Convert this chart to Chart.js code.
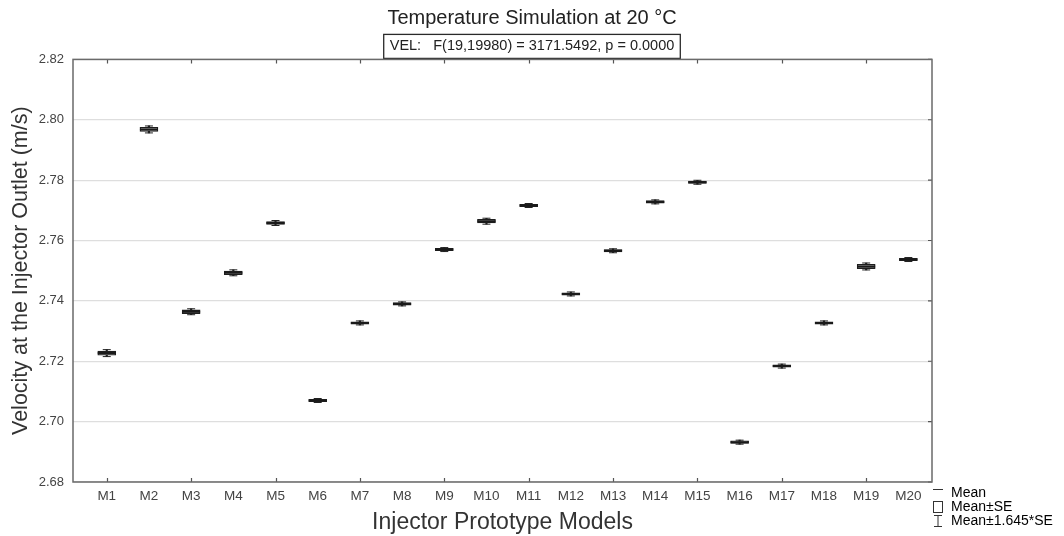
<!DOCTYPE html>
<html>
<head>
<meta charset="utf-8">
<script src="https://cdn.jsdelivr.net/npm/chart.js@4/dist/chart.umd.min.js"></script>
<style>
  html, body { margin: 0; padding: 0; background: #fff; }
</style>
</head>
<body>
<canvas id="velChart" width="1064" height="536"></canvas>
<script>
const models = ['M1', 'M2', 'M3', 'M4', 'M5', 'M6', 'M7', 'M8', 'M9', 'M10',
                'M11', 'M12', 'M13', 'M14', 'M15', 'M16', 'M17', 'M18', 'M19', 'M20'];
const meanVel = [2.7227, 2.7968, 2.7364, 2.7493, 2.7658, 2.7070, 2.7327, 2.7390, 2.7570, 2.7664,
                 2.7716, 2.7423, 2.7566, 2.7728, 2.7793, 2.6932, 2.7184, 2.7327, 2.7514, 2.7537];
const stdErr = [0.0007, 0.0007, 0.0006, 0.0006, 0.0005, 0.0004, 0.0004, 0.0004, 0.0004, 0.0006,
                0.0004, 0.0004, 0.0004, 0.0004, 0.0004, 0.0004, 0.0004, 0.0004, 0.0007, 0.0004];
const yTicks = [2.68, 2.70, 2.72, 2.74, 2.76, 2.78, 2.80, 2.82];
const zFactor = 1.645;

const fam = "'Liberation Sans', Arial, sans-serif";
Chart.defaults.font.family = fam;
Chart.defaults.color = '#333';

const boxData = meanVel.map((m, i) => ({ x: i + 1, y: [m - stdErr[i], m + stdErr[i]] }));
const whiskerData = meanVel.map((m, i) => ({ x: i + 1, y: [m - zFactor * stdErr[i], m + zFactor * stdErr[i]] }));
const capData = [];
meanVel.forEach((m, i) => {
    capData.push({ x: i + 1, y: m - zFactor * stdErr[i] });
    capData.push({ x: i + 1, y: m + zFactor * stdErr[i] });
});
const meanData = meanVel.map((m, i) => ({ x: i + 1, y: m }));

// legend glyphs
const makeIcon = (draw) => {
    const c = document.createElement('canvas');
    c.width = 12; c.height = 14;
    const g = c.getContext('2d');
    g.strokeStyle = '#333';
    g.lineWidth = 1;
    draw(g);
    return c;
};
const meanIcon = makeIcon(g => { g.beginPath(); g.moveTo(1, 3.5); g.lineTo(11, 3.5); g.stroke(); });
const seIcon = makeIcon(g => { g.strokeRect(1.5, 1.5, 9, 11); });
const ciIcon = makeIcon(g => {
    g.beginPath();
    g.moveTo(2, 1.5); g.lineTo(10, 1.5);
    g.moveTo(6, 1.5); g.lineTo(6, 12.5);
    g.moveTo(2, 12.5); g.lineTo(10, 12.5);
    g.stroke();
});

const subtitleText = 'VEL:   F(19,19980) = 3171.5492, p = 0.0000';
const subtitleSize = 14.5;

const framePlugin = {
    id: 'framePlugin',
    afterInit(chart) {
        // legend column is a bit wider than its text, like the original
        const lg = chart.legend;
        const fit = lg.fit.bind(lg);
        lg.fit = function () { fit(); this.width = 132; };
    },
    afterLayout(chart) {
        chart.legend.bottom -= 8;
    },
    afterDraw(chart) {
        const ctx = chart.ctx;
        const a = chart.chartArea;
        const xs = chart.scales.x, ys = chart.scales.y;
        ctx.save();
        // box round the subtitle
        ctx.font = subtitleSize + 'px ' + fam;
        const w = ctx.measureText(subtitleText).width;
        const cx = (chart.titleBlock.left + chart.titleBlock.right) / 2;
        ctx.strokeStyle = '#2a2a2a';
        ctx.lineWidth = 1.3;
        ctx.strokeRect(cx - w / 2 - 6, a.top - 25, w + 12, 24);
        // small inner tick marks
        ctx.strokeStyle = '#555';
        ctx.lineWidth = 1.2;
        ctx.beginPath();
        models.forEach((m, i) => {
            if (i % 2 !== 0) return;
            const px = Math.round(xs.getPixelForValue(i + 1)) + 0.5;
            ctx.moveTo(px, a.bottom); ctx.lineTo(px, a.bottom - 4);
            ctx.moveTo(px, a.top); ctx.lineTo(px, a.top + 4);
        });
        yTicks.forEach(v => {
            const py = ys.getPixelForValue(v);
            ctx.moveTo(a.right, py); ctx.lineTo(a.right - 4, py);
        });
        ctx.stroke();
        // plot frame
        ctx.strokeStyle = '#6a6a6a';
        ctx.lineWidth = 1.5;
        ctx.strokeRect(a.left, a.top, a.right - a.left, a.bottom - a.top);
        ctx.restore();
    }
};

new Chart(document.getElementById('velChart'), {
    type: 'bar',
    data: {
        datasets: [
            {
                label: 'Mean',
                type: 'scatter',
                data: meanData,
                pointStyle: 'line',
                pointRadius: 9,
                borderWidth: 2,
                borderColor: '#1a1a1a',
                order: 1
            },
            {
                label: 'Mean±SE',
                data: boxData,
                grouped: false,
                barThickness: 18,
                backgroundColor: '#c9c9c9',
                borderColor: '#1e1e1e',
                borderWidth: 1.3,
                borderSkipped: false,
                order: 2
            },
            {
                label: 'Mean±1.645*SE',
                data: whiskerData,
                grouped: false,
                barThickness: 1.5,
                backgroundColor: '#222',
                order: 3
            },
            {
                label: 'caps',
                type: 'scatter',
                data: capData,
                pointStyle: 'line',
                pointRadius: 4,
                borderWidth: 1,
                borderColor: '#222',
                order: 4
            }
        ]
    },
    options: {
        responsive: false,
        animation: false,
        layout: { padding: 0 },
        scales: {
            x: {
                type: 'linear',
                offset: false,
                min: 0.2,
                max: 20.56,
                afterBuildTicks: s => { s.ticks = models.map((m, i) => ({ value: i + 1 })); },
                afterFit: s => { s.height = 54; },
                grid: { display: false, drawTicks: false },
                border: { display: false },
                ticks: {
                    padding: 6,
                    color: '#444',
                    font: { size: 13.5 },
                    autoSkip: false,
                    maxRotation: 0,
                    callback: (v, i) => models[i]
                },
                title: {
                    display: true,
                    text: 'Injector Prototype Models',
                    color: '#333',
                    font: { size: 23 },
                    padding: { top: 0, bottom: 0 }
                }
            },
            y: {
                min: 2.68,
                max: 2.82,
                afterBuildTicks: s => { s.ticks = yTicks.map(v => ({ value: v })); },
                afterFit: s => { s.width = 73; },
                grid: { color: '#dedede', lineWidth: 1.2, drawTicks: false },
                border: { display: false },
                ticks: {
                    padding: 9,
                    color: '#444',
                    font: { size: 13 },
                    callback: v => v.toFixed(2)
                },
                title: {
                    display: true,
                    text: 'Velocity at the Injector Outlet (m/s)',
                    color: '#333',
                    font: { size: 21.5 },
                    padding: { top: 8, bottom: 0 }
                }
            }
        },
        plugins: {
            tooltip: { enabled: false },
            title: {
                display: true,
                text: 'Temperature Simulation at 20 °C',
                color: '#222',
                font: { size: 20, weight: 'normal' },
                padding: { top: 6, bottom: 2 }
            },
            subtitle: {
                display: true,
                text: subtitleText,
                color: '#222',
                font: { size: subtitleSize },
                padding: { top: 5, bottom: 5 }
            },
            legend: {
                position: 'right',
                align: 'end',
                labels: {
                    usePointStyle: true,
                    boxWidth: 12,
                    boxHeight: 12,
                    padding: 0,
                    color: '#333',
                    font: { size: 14 },
                    generateLabels: () => [
                        { text: 'Mean', pointStyle: meanIcon, fillStyle: '#fff', strokeStyle: '#333', lineWidth: 0, datasetIndex: 0 },
                        { text: 'Mean±SE', pointStyle: seIcon, fillStyle: '#fff', strokeStyle: '#333', lineWidth: 0, datasetIndex: 1 },
                        { text: 'Mean±1.645*SE', pointStyle: ciIcon, fillStyle: '#fff', strokeStyle: '#333', lineWidth: 0, datasetIndex: 2 }
                    ]
                }
            }
        }
    },
    plugins: [framePlugin]
});
</script>
</body>
</html>
